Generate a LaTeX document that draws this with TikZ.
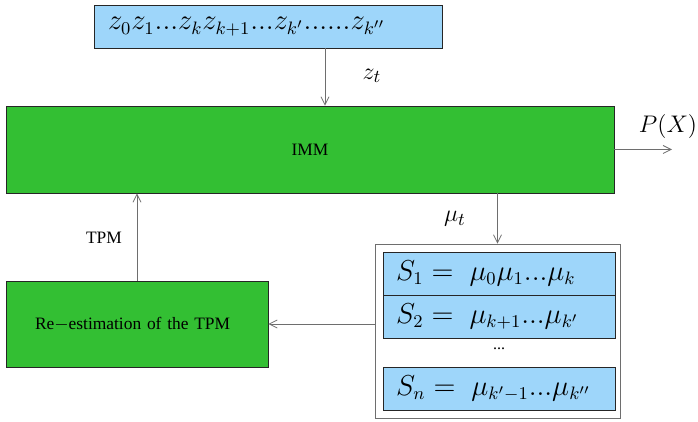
\documentclass[tikz,border=0pt]{standalone}
\usepackage[no-math]{fontspec}
\setmainfont{Liberation Serif}
\usetikzlibrary{arrows.meta}
\definecolor{seqblue}{RGB}{158,214,250}
\definecolor{boxgreen}{RGB}{51,191,51}
\definecolor{linegray}{RGB}{110,110,110}
\begin{document}
\begin{tikzpicture}[x=0.5pt,y=-0.5pt]
    \tikzstyle{block}=[rectangle,draw=black!85,fill=boxgreen,inner sep=0pt,font=\fontsize{8.7}{10}\selectfont]
    \tikzstyle{seq}=[rectangle,draw=black!85,fill=seqblue,inner sep=0pt,font=\fontsize{13.4}{15}\selectfont]
    \tikzstyle{link}=[draw=linegray,-{Straight Barb[length=4pt,width=4pt]}]
    \tikzstyle{lab}=[font=\fontsize{12.5}{15}\selectfont]
    \useasboundingbox (0,0) rectangle (698,422);
    % input sequence
    \node (obs)[seq,minimum width=174pt,minimum height=21.5pt,text width=160pt,align=left] at (268,26.5)
        {$z_0z_1...z_kz_{k+1}...z_{k'}......z_{k''}$};
    \node (imm)[block,minimum width=304pt,minimum height=43.5pt] at (310,149.5) {IMM};
    \node (rest)[block,minimum height=43pt,inner xsep=14.5pt,text width=102pt,align=left] at (137,324)
        {Re$-$estimation of the TPM};
    % segments
    \node (segs)[rectangle,draw=linegray,minimum width=122.5pt,minimum height=87pt] at (497.5,331) {};
    \node (s1)[seq,minimum width=116pt,minimum height=21.5pt,text width=103pt,align=left] at (499,273.5)
        {$S_1 =\; \mu_0\mu_1...\mu_k$};
    \node (s2)[seq,minimum width=116pt,minimum height=21.5pt,text width=103pt,align=left] at (499,316.5)
        {$S_2 =\; \mu_{k+1}...\mu_{k'}$};
    \node (dots)[font=\fontsize{8}{10}\selectfont] at (499,349) {...};
    \node (sn)[seq,minimum width=116pt,minimum height=21.5pt,text width=103pt,align=left] at (499,388.5)
        {$S_n =\; \mu_{k'-1}...\mu_{k''}$};
    % connectors
    \coordinate (zt) at (325,48);
    \coordinate (out) at (672,149.5);
    \draw [link] (zt) -- (zt |- imm.north);
    \draw [link] (imm.east) -- (out);
    \draw [link] (segs.north |- imm.south) -- (segs.north);
    \draw [link] (segs.west |- rest.east) -- (rest.east);
    \draw [link] (rest.north) -- (rest.north |- imm.south);
    \node (ztl)[lab] at (372,76) {$z_t$};
    \node (pxl)[lab] at (668,127) {$P(X)$};
    \node (mutl)[lab] at (455,219) {$\mu_t$};
    \node (tpml)[font=\fontsize{8.7}{10}\selectfont] at (104,238) {TPM};
\end{tikzpicture}
\end{document}
